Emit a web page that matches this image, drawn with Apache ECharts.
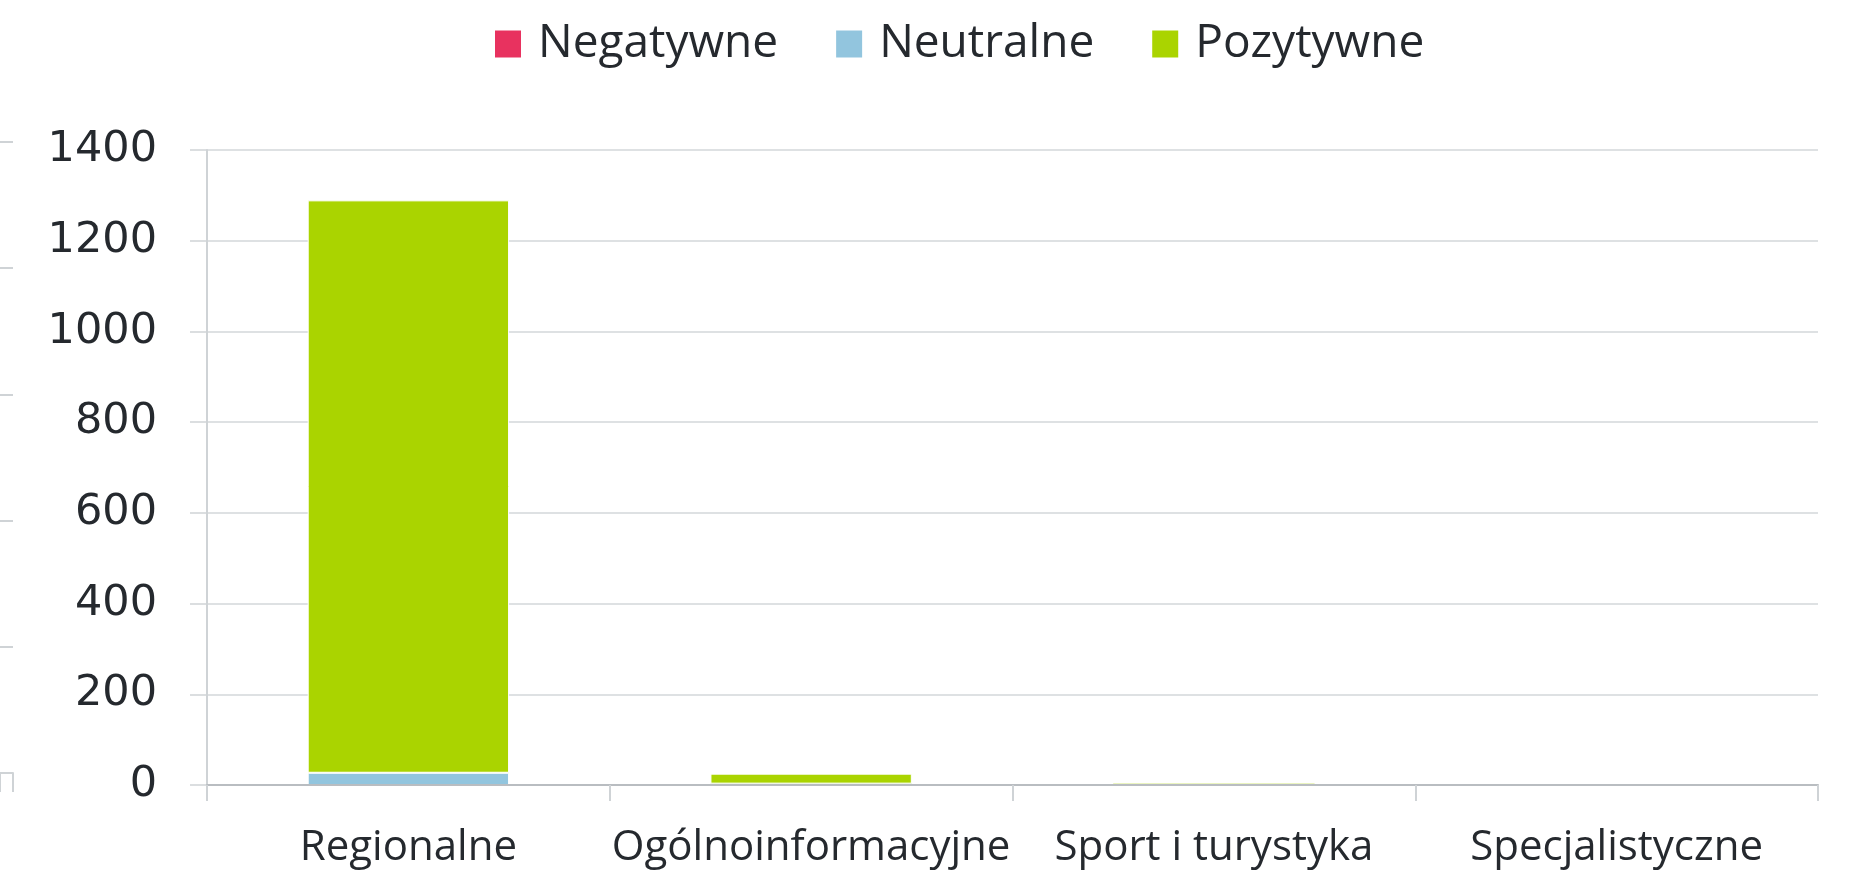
<!DOCTYPE html>
<html>
<head>
<meta charset="utf-8">
<script src="https://cdn.jsdelivr.net/npm/echarts@6/dist/echarts.min.js"></script>
<style>
  html, body { margin: 0; padding: 0; background: #fff; }
  #chart { width: 1849px; height: 875px; }
</style>
</head>
<body>
<div id="chart"></div>
<script>
// dane
const categories = ['Regionalne', 'Ogólnoinformacyjne', 'Sport i turystyka', 'Specjalistyczne'];
const negatywne = [0, 0, 0, 0];
const neutralne = [27, 3, 0, 0];
const pozytywne = [1262, 22, 3, 0];
const yTicks = [0, 200, 400, 600, 800, 1000, 1200, 1400];

const colors = ['#E8325F', '#92C5DE', '#AAD400'];

const chart = echarts.init(document.getElementById('chart'));

// biała ramka tylko przy większych wartościach, żeby nie zasłaniać osi
const barSeries = (name, data) => ({
  name,
  type: 'bar',
  stack: 'total',
  barWidth: '50%',
  data: data.map((v) => ({
    value: v,
    itemStyle: { borderColor: '#fff', borderWidth: v >= 10 ? 1 : 0 },
  })),
});

const option = {
  animation: false,
  color: colors,
  legend: {
    top: 16,
    left: 490,
    itemWidth: 26,
    itemHeight: 27,
    itemGap: 58,
    icon: 'rect',
    data: ['Negatywne', 'Neutralne', 'Pozytywne'],
    textStyle: {
      fontFamily: 'Open Sans',
      fontSize: 46,
      color: '#25292e',
      padding: [0, 0, 0, 12],
    },
  },
  grid: [
    { left: 207, right: 31, top: 150, bottom: 90 },
    // resztka osi po lewej stronie
    { left: -30, width: 43, top: 142, height: 631 },
  ],
  xAxis: [
    {
      type: 'category',
      data: categories,
      z: 5,
      axisLine: { lineStyle: { color: '#b9bdc1', width: 2 } },
      axisTick: { show: true, length: 16, lineStyle: { color: '#cfd3d6', width: 2 } },
      axisLabel: {
        interval: 0,
        fontFamily: 'Open Sans',
        fontSize: 42,
        color: '#25292e',
        margin: 42,
      },
    },
    {
      gridIndex: 1,
      type: 'category',
      data: [''],
      axisLine: { lineStyle: { color: '#cfd3d6', width: 2 } },
      axisTick: { show: true, length: 19, lineStyle: { color: '#cfd3d6', width: 2 } },
      axisLabel: { show: false },
    },
  ],
  yAxis: [
    {
      type: 'value',
      min: 0,
      max: 1400,
      interval: 200,
      axisLine: { show: true, lineStyle: { color: '#cfd3d6', width: 2 } },
      axisTick: { show: true, length: 17, lineStyle: { color: '#cfd3d6', width: 1.5 } },
      splitLine: { lineStyle: { color: '#d3d7da', width: 1.5 } },
      axisLabel: {
        fontFamily: 'DejaVu Sans',
        fontSize: 43,
        color: '#25292e',
        margin: 50,
        formatter: (v) => (yTicks.includes(v) ? String(v) : ''),
      },
    },
    {
      gridIndex: 1,
      type: 'value',
      min: 0,
      max: 5,
      interval: 1,
      axisLine: { show: false },
      axisTick: { show: false },
      axisLabel: { show: false },
      splitLine: { lineStyle: { color: '#cfd3d6', width: 2 } },
    },
  ],
  series: [
    barSeries('Negatywne', negatywne),
    barSeries('Neutralne', neutralne),
    barSeries('Pozytywne', pozytywne),
  ],
};

chart.setOption(option);
</script>
</body>
</html>
